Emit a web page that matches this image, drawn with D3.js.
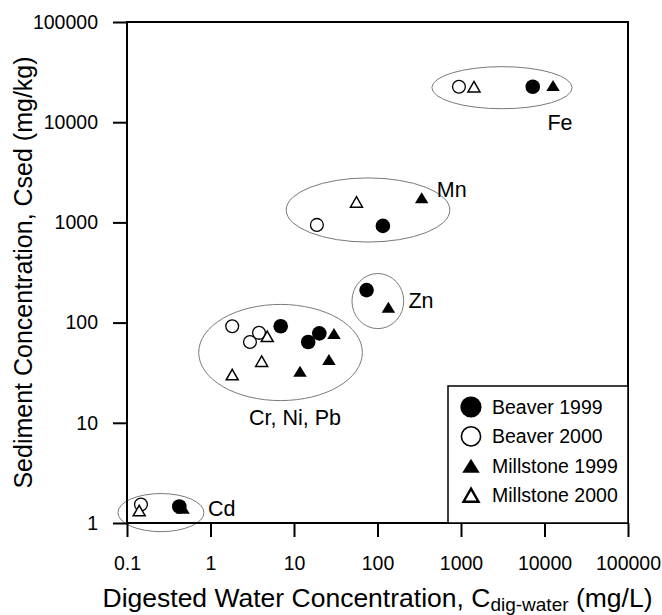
<!DOCTYPE html>
<html>
<head>
<meta charset="utf-8">
<script src="https://cdn.jsdelivr.net/npm/d3@7"></script>
<style>
  body { margin: 0; background: #fff; }
  text { font-family: "Liberation Sans", Arial, sans-serif; fill: #000; }
</style>
</head>
<body>
<div id="chart"></div>
<script>
// series: [water conc (mg/L), sediment conc (mg/kg)]
var beaver1999 = [[7230, 22600], [116, 923], [74, 211], [6.93, 92], [14.8, 64], [20.1, 78], [0.423, 1.46]];
var beaver2000 = [[945, 22600], [18.8, 944], [1.82, 92], [2.97, 64], [3.81, 79], [0.147, 1.53]];
var millstone1999 = [[12650, 23200], [338, 1760], [135, 142], [30.1, 78], [26.2, 42.9], [11.8, 32.7], [0.469, 1.40]];
var millstone2000 = [[1430, 22600], [56, 1600], [1.82, 30.3], [4.1, 41.2], [4.78, 73], [0.140, 1.33]];

// metal groups: centre value, half-size in decades, label position
var groupNames = ["Fe", "Mn", "Zn", "Cr, Ni, Pb", "Cd"];
var groupCenters = [[3100, 22100], [77, 1330], [101, 164], [6.9, 50.3], [0.255, 1.27]];
var groupSpread = [[0.84, 0.21], [0.98, 0.32], [0.31, 0.275], [0.98, 0.48], [0.515, 0.19]];
var groupLabelAt = [[15350, 9890], [775, 2110], [332, 168], [10.3, 11.4], [1.36, 1.40]];

var xTicks = [0.1, 1, 10, 100, 1000, 10000, 100000];
var yTicks = [1, 10, 100, 1000, 10000, 100000];
var legendNames = ["Beaver 1999", "Beaver 2000", "Millstone 1999", "Millstone 2000"];

function drawChart() {
var W = 662, H = 615;
var pl = 127, pr = 628, pt = 22, pb = 523;

var svg = d3.select("#chart").append("svg")
    .attr("width", W)
    .attr("height", H);

var x = d3.scaleLog().domain([0.1, 100000]).range([pl, pr]);
var y = d3.scaleLog().domain([1, 100000]).range([pb, pt]);
var decX = (pr - pl) / 6, decY = (pb - pt) / 5;

// ellipses around metal groups
svg.selectAll(".grp")
    .data(groupNames)
    .enter().append("ellipse")
    .attr("class", "grp")
    .attr("cx", function(d, i) { return x(groupCenters[i][0]); })
    .attr("cy", function(d, i) { return y(groupCenters[i][1]); })
    .attr("rx", function(d, i) { return groupSpread[i][0] * decX; })
    .attr("ry", function(d, i) { return groupSpread[i][1] * decY; })
    .style("fill", "none")
    .style("stroke", "#7a7a7a")
    .style("stroke-width", 1);

svg.selectAll(".glabel")
    .data(groupNames)
    .enter().append("text")
    .attr("class", "glabel")
    .attr("x", function(d, i) { return x(groupLabelAt[i][0]); })
    .attr("y", function(d, i) { return y(groupLabelAt[i][1]); })
    .attr("dy", "0.35em")
    .style("text-anchor", "middle")
    .style("font-size", "21.5px")
    .text(function(d) { return d; });

// triangle path with bbox centred on the point
function tri(w, h) {
    return "M0," + (-h / 2) + "L" + (w / 2) + "," + (h / 2) + "L" + (-w / 2) + "," + (h / 2) + "Z";
}

function drawCircles(data, filled) {
    svg.selectAll(null)
        .data(data)
        .enter().append("circle")
        .attr("cx", function(d) { return x(d[0]); })
        .attr("cy", function(d) { return y(d[1]); })
        .attr("r", filled ? 7.3 : 6.4)
        .style("fill", filled ? "#000" : "#fff")
        .style("stroke", "#000")
        .style("stroke-width", filled ? 0 : 1.3);
}
function drawTris(data, filled) {
    svg.selectAll(null)
        .data(data)
        .enter().append("path")
        .attr("transform", function(d) { return "translate(" + x(d[0]) + "," + y(d[1]) + ")"; })
        .attr("d", filled ? tri(13.5, 11) : tri(12, 10.5))
        .style("fill", filled ? "#000" : "#fff")
        .style("stroke", "#000")
        .style("stroke-width", filled ? 0 : 1.5);
}

drawCircles(beaver2000, false);
drawTris(millstone2000, false);
drawCircles(beaver1999, true);
drawTris(millstone1999, true);

// frame
svg.append("rect")
    .attr("x", pl).attr("y", pt)
    .attr("width", pr - pl).attr("height", pb - pt)
    .style("fill", "none")
    .style("stroke", "#000")
    .style("stroke-width", 2);

var yAxis = svg.append("g")
    .attr("transform", "translate(" + pl + ",0)")
    .call(d3.axisLeft(y).tickValues(yTicks).tickFormat(d3.format("d")).tickSize(14).tickSizeOuter(0).tickPadding(15));
var xAxis = svg.append("g")
    .attr("transform", "translate(0," + pb + ")")
    .call(d3.axisBottom(x).tickValues(xTicks).tickFormat(function(d) { return d < 1 ? "0.1" : d3.format("d")(d); }).tickSize(14).tickSizeOuter(0).tickPadding(19));

[yAxis, xAxis].forEach(function(a) {
    a.select(".domain").remove();
    a.selectAll(".tick line").style("stroke", "#000").style("stroke-width", 2);
    a.selectAll(".tick text")
        .style("font-family", "'Liberation Sans', Arial, sans-serif")
        .style("font-size", "19.5px")
        .style("fill", "#000");
});

// legend
var lg = svg.append("g");
lg.append("rect")
    .attr("x", 448).attr("y", 386)
    .attr("width", pr - 448).attr("height", pb - 386)
    .style("fill", "#fff")
    .style("stroke", "#000")
    .style("stroke-width", 1.5);

var rows = lg.selectAll(".lrow")
    .data(legendNames)
    .enter().append("g")
    .attr("class", "lrow")
    .attr("transform", function(d, i) { return "translate(471," + (407 + i * 29.4) + ")"; });

rows.each(function(d, i) {
    var g = d3.select(this);
    if (i < 2) {
        g.append("circle")
            .attr("r", i == 0 ? 10.6 : 9.6)
            .style("fill", i == 0 ? "#000" : "#fff")
            .style("stroke", "#000")
            .style("stroke-width", i == 0 ? 0 : 1.6);
    } else {
        g.append("path")
            .attr("d", i == 2 ? tri(17.5, 14) : tri(15, 13))
            .style("fill", i == 2 ? "#000" : "#fff")
            .style("stroke", "#000")
            .style("stroke-width", i == 2 ? 0 : 2.4);
    }
    g.append("text")
        .attr("x", 21)
        .attr("dy", "0.35em")
        .style("font-size", "19.5px")
        .text(d);
});

// axis titles
var xt = svg.append("text")
    .attr("x", (pl + pr) / 2)
    .attr("y", 607)
    .style("text-anchor", "middle")
    .style("font-size", "26.5px");
xt.append("tspan").text("Digested Water Concentration, C");
xt.append("tspan").attr("dy", 4).style("font-size", "19px").text("dig-water");
xt.append("tspan").attr("dy", -4).text(" (mg/L)");

svg.append("text")
    .attr("transform", "translate(32," + ((pt + pb) / 2) + ") rotate(-90)")
    .style("text-anchor", "middle")
    .style("font-size", "25px")
    .text("Sediment Concentration, Csed (mg/kg)");
}
drawChart();
</script>
</body>
</html>
